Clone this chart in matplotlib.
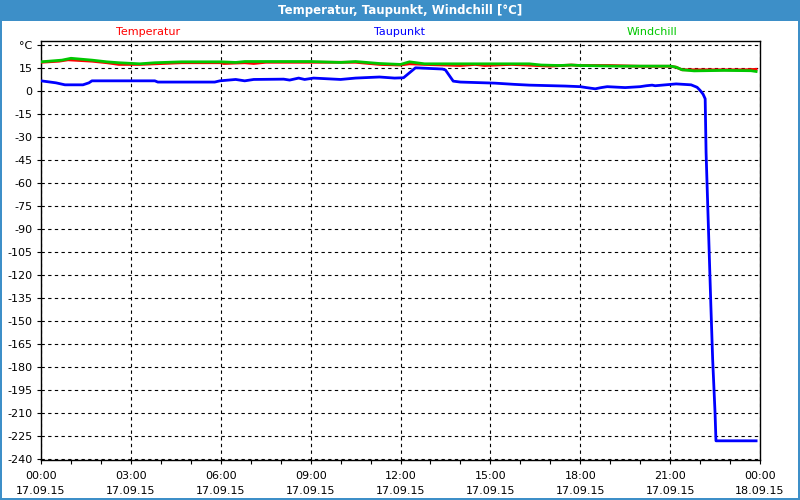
#!/usr/bin/env python3
# weather_day_plot.py
import numpy as np
import pandas as pd
import matplotlib
matplotlib.use("Agg")
import matplotlib.pyplot as plt
import matplotlib.dates as mdates
from matplotlib.patches import Rectangle

# ----------------------------- Data -----------------------------
# hours after 17.09.15 00:00, values in degC
temp_h = [0.0, 0.6, 0.9, 1.7, 2.2, 2.6, 3.3, 4.7, 6.0, 6.1, 6.8, 7.1, 7.5, 9.0,
          10.5, 11.3, 12.0, 12.3, 12.8, 14.0, 14.5, 14.8, 15.7, 17.0, 17.7, 18.0,
          19.0, 20.0, 21.0, 21.2, 21.4, 22.8, 23.5, 23.87]
temp_v = [18.8, 19.5, 20.4, 19.5, 18.5, 17.4, 17.4, 18.5, 18.5, 18.0, 18.5, 18.0, 18.8, 18.8,
          18.8, 17.4, 17.0, 17.8, 17.4, 16.7, 17.4, 16.7, 17.4, 16.3, 17.0, 16.7,
          16.7, 16.2, 16.2, 15.6, 13.9, 13.9, 13.9, 14.2]

wind_h = [0.0, 0.7, 1.0, 1.7, 2.2, 2.6, 3.3, 3.8, 4.7, 6.0, 6.5, 6.8, 9.0, 10.0,
          10.5, 11.3, 12.0, 12.3, 12.8, 16.3, 16.7, 17.3, 17.7, 18.0, 19.2, 21.0,
          21.2, 21.4, 21.8, 22.8, 23.7, 23.87]
wind_v = [19.1, 20.2, 21.4, 20.2, 19.1, 18.5, 17.8, 18.5, 19.1, 19.1, 18.7, 19.3, 19.3, 18.7,
          19.3, 18.0, 17.4, 19.1, 17.8, 17.8, 17.0, 16.7, 17.0, 16.7, 16.3, 16.3,
          15.6, 13.9, 13.2, 13.5, 13.3, 12.8]

dew_h = [0.0, 0.5, 0.8, 1.4, 1.6, 1.7, 3.8, 3.9, 5.8, 5.97, 6.5, 6.8, 7.1, 8.1, 8.3,
         8.6, 8.8, 9.1, 10.0, 10.5, 11.3, 11.8, 12.1, 12.5, 13.4, 13.5, 13.76, 14.0,
         15.15, 15.8, 16.3, 17.5, 18.0, 18.2, 18.5, 18.7, 18.9, 19.5, 20.0, 20.2,
         20.4, 20.5, 21.2, 21.7, 21.9, 22.0, 22.1, 22.17, 22.2, 22.28, 22.36, 22.42,
         22.5, 22.53, 23.87]
dew_v = [6.7, 5.4, 4.1, 4.1, 5.4, 6.7, 6.7, 5.9, 5.9, 6.7, 7.6, 6.7, 7.6, 7.8, 7.2,
         8.5, 7.6, 8.5, 7.6, 8.5, 9.2, 8.5, 8.7, 15.2, 14.4, 13.8, 6.5, 5.9,
         5.2, 4.4, 3.9, 3.3, 2.9, 2.3, 1.5, 2.3, 2.9, 2.3, 2.9, 3.5,
         3.9, 3.5, 4.7, 4.1, 2.5, 0.5, -2.0, -5.0, -40.0, -90.0, -140.0, -175.0,
         -210.0, -228.0, -228.0]

y_ticks = list(range(-240, 31, 15))
y_labels = [str(v) for v in y_ticks[:-1]] + ["°C"]
series_names = ["Temperatur", "Taupunkt", "Windchill"]
title = "Temperatur, Taupunkt, Windchill [°C]"

START = pd.Timestamp("2015-09-17 00:00")

def to_time(hours):
    return START + pd.to_timedelta(np.asarray(hours), unit="h")

# ----------------------------- Plotting -----------------------------
BAR = "#3d8fc8"
RED, BLUE, GREEN = "#ff0000", "#0000ff", "#00c800"

fig = plt.figure(figsize=(8, 5), dpi=100)
fig.patch.set_facecolor("white")

# title bar + window frame
fig.patches.append(Rectangle((0, 1 - 21/500), 1, 21/500, transform=fig.transFigure,
                             facecolor=BAR, edgecolor="none", zorder=0))
for r in [(0, 0, 2/800, 1), (1 - 2/800, 0, 2/800, 1), (0, 0, 1, 2/500)]:
    fig.patches.append(Rectangle(r[:2], r[2], r[3], transform=fig.transFigure,
                                 facecolor=BAR, edgecolor="none", zorder=0))
fig.text(0.5, 1 - 10.5/500, title, color="white", fontsize=8.5, fontweight="bold",
         ha="center", va="center")

ax = fig.add_axes([41/800, 40/500, 719/800, 419.5/500])
ax.set_facecolor("white")

ax.plot(to_time(temp_h), temp_v, color=RED, lw=2.0, zorder=3)
ax.plot(to_time(wind_h), wind_v, color=GREEN, lw=2.0, zorder=4)
ax.plot(to_time(dew_h), dew_v, color=BLUE, lw=2.0, zorder=5)

ax.set_xlim(START, START + pd.Timedelta(hours=24))
ax.set_ylim(-240.5, 33)
ax.set_yticks(y_ticks)
ax.set_yticklabels(y_labels)

ax.xaxis.set_major_locator(mdates.HourLocator(byhour=range(0, 24, 3)))
ax.xaxis.set_minor_locator(mdates.HourLocator())
ax.xaxis.set_major_formatter(mdates.DateFormatter("%H:%M\n%d.%m.%y"))

ax.grid(True, which="major", color="black", linestyle=(0, (3, 3)), linewidth=0.8)
ax.tick_params(axis="both", which="both", direction="out", length=3, width=0.8,
               labelsize=8, colors="black")
ax.tick_params(axis="x", which="major", pad=5)
ax.tick_params(axis="y", pad=3)
for lbl in ax.get_xticklabels():
    lbl.set_linespacing(1.6)
for sp in ax.spines.values():
    sp.set_linewidth(1.0)
    sp.set_color("black")

# series names above the axes
for name, xc, col in zip(series_names, [148, 399, 652], [RED, BLUE, GREEN]):
    fig.text(xc/800, 1 - 32/500, name, color=col, fontsize=8, ha="center", va="center")

fig.savefig("out.png", dpi=100)
